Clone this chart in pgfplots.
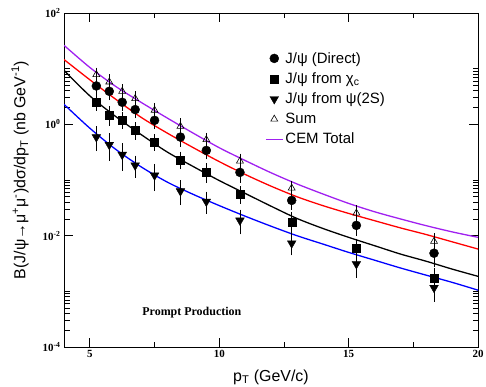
\documentclass[border=0pt]{standalone}
\usepackage{pgfplots}
\pgfplotsset{compat=1.18}
\usepackage{fontspec}
\setmainfont{Liberation Sans}
\newfontfamily\tmsb{Liberation Serif}
\definecolor{cempurple}{RGB}{160,32,240}
\begin{document}
\begin{tikzpicture}
\begin{axis}[
  scale only axis, width=414bp, height=334bp,
  xmin=4, xmax=20, ymin=1e-4, ymax=1e2, ymode=log,
  xtick={5,10,15,20}, xticklabels={5,10,15,20},
  minor xtick={7.5,12.5,17.5},
  ytick={1e-4,1e-2,1,1e2},
  yticklabels={10\textsuperscript{-4},10\textsuperscript{-2},10\textsuperscript{0},10\textsuperscript{2}},
  minor ytick={2e-4,3e-4,4e-4,5e-4,6e-4,7e-4,8e-4,9e-4,1e-3,2e-2,3e-2,4e-2,5e-2,6e-2,7e-2,8e-2,9e-2,1e-1,2,3,4,5,6,7,8,9,10},
  tick align=inside,
  major tick length=9bp, minor tick length=5.5bp,
  every tick/.style={black, line width=0.8pt},
  axis line style={line width=1pt},
  ticklabel style={font=\tmsb\bfseries\fontsize{11}{11}\selectfont},
  xlabel={p\textsubscript{T} (GeV/c)},
  ylabel={B(J/ψ→μ\textsuperscript{+}μ\textsuperscript{-})dσ/dp\textsubscript{T} (nb GeV\textsuperscript{-1})},
  label style={font=\fontsize{16}{16}\selectfont},
  xlabel style={at={(axis description cs:0.5,0)}, anchor=center, yshift=-30bp},
  ylabel style={at={(axis description cs:-0.106,0.53)}, anchor=center},
  legend style={at={(axis description cs:0.478,0.895)}, anchor=north west, draw=none, fill=none,
    font=\fontsize{15}{15}\selectfont, row sep=4bp},
  legend cell align=left,
  error bars/y dir=both, error bars/y explicit relative,
  error bars/error bar style={black, line width=0.6pt},
  error bars/error mark options={black, mark size=3.5bp, line width=0.6pt},
]
\addlegendimage{only marks, mark=*, black, mark size=4.5bp}
\addlegendentry{J/ψ (Direct)}
\addlegendimage{only marks, mark=square*, black, mark size=4bp}
\addlegendentry{J/ψ from χ\textsubscript{c}}
\addlegendimage{only marks, mark=triangle*, black, mark size=5bp, mark options={rotate=180}}
\addlegendentry{J/ψ from ψ(2S)}
\addlegendimage{only marks, mark=triangle, black, mark size=4bp, mark options={line width=0.6pt}}
\addlegendentry{Sum}
\addlegendimage{legend image code/.code={\draw[cempurple, line width=1.4pt] (0cm,0cm) -- (0.6cm,0cm);}}
\addlegendentry{CEM Total}

% theory curves
\addplot[forget plot, cempurple, line width=1.3pt, smooth] coordinates {
(4,26.3)(5,10.5)(6,4.79)(7,2.45)(8,1.29)(9,0.692)(10,0.380)(11,0.224)(12,0.135)(13,0.0851)(14,0.0562)(15,0.0380)(16,0.0269)(17,0.0200)(18,0.0151)(19,0.0117)(20,0.00933)};
\addplot[forget plot, red, line width=1.3pt, smooth] coordinates {
(4,14.59)(5,6.31)(6,2.818)(7,1.318)(8,0.692)(9,0.380)(10,0.214)(11,0.126)(12,0.0776)(13,0.0501)(14,0.0347)(15,0.0251)(16,0.0186)(17,0.0138)(18,0.01047)(19,0.00776)(20,0.00575)};
\addplot[forget plot, black, line width=1.3pt, smooth] coordinates {
(4,9.33)(5,3.24)(6,1.38)(7,0.646)(8,0.316)(9,0.174)(10,0.0977)(11,0.0575)(12,0.0339)(13,0.0204)(14,0.0135)(15,0.00933)(16,0.00661)(17,0.00468)(18,0.00347)(19,0.00251)(20,0.00186)};
\addplot[forget plot, blue, line width=1.3pt, smooth] coordinates {
(4,2.29)(5,0.851)(6,0.355)(7,0.170)(8,0.0912)(9,0.0550)(10,0.0347)(11,0.0224)(12,0.0148)(13,0.0100)(14,0.00708)(15,0.00501)(16,0.00363)(17,0.00263)(18,0.00195)(19,0.00145)(20,0.00105)};

% data
\addplot[forget plot, only marks, mark=*, black, mark size=4.5bp, error bars/y dir=both, error bars/y explicit relative] coordinates {
(5.25,4.89) +- (0,0.17)
(5.75,3.92) +- (0,0.2)
(6.25,2.49) +- (0,0.18)
(6.75,1.84) +- (0,0.2)
(7.5,1.18) +- (0,0.2)
(8.5,0.59) +- (0,0.22)
(9.5,0.34) +- (0,0.2)
(10.8,0.137) +- (0,0.25)
(12.8,0.043) +- (0,0.22)
(15.3,0.0153) +- (0,0.25)
(18.3,0.00484) +- (0,0.35)
};
\addplot[forget plot, only marks, mark=square*, black, mark size=4bp, error bars/y dir=both, error bars/y explicit relative] coordinates {
(5.25,2.52) +- (0,0.2)
(5.75,1.45) +- (0,0.25)
(6.25,1.18) +- (0,0.2)
(6.75,0.78) +- (0,0.22)
(7.5,0.48) +- (0,0.2)
(8.5,0.23) +- (0,0.22)
(9.5,0.137) +- (0,0.25)
(10.8,0.055) +- (0,0.22)
(12.8,0.0178) +- (0,0.3)
(15.3,0.0059) +- (0,0.3)
(18.3,0.00175) +- (0,0.3)
};
\addplot[forget plot, only marks, mark=triangle*, black, mark size=5bp, mark options={rotate=180}, error bars/y dir=both, error bars/y explicit relative] coordinates {
(5.25,0.59) +- (0,0.35)
(5.75,0.43) +- (0,0.4)
(6.25,0.285) +- (0,0.4)
(6.75,0.183) +- (0,0.3)
(7.5,0.121) +- (0,0.4)
(8.5,0.063) +- (0,0.35)
(9.5,0.041) +- (0,0.3)
(10.8,0.0188) +- (0,0.35)
(12.8,0.0073) +- (0,0.3)
(15.3,0.0031) +- (0,0.35)
(18.3,0.00116) +- (0,0.35)
};
\addplot[forget plot, only marks, mark=triangle, black, mark size=4bp, mark options={line width=0.6pt}, error bars/y dir=both, error bars/y explicit relative] coordinates {
(5.25,7.83) +- (0,0.15)
(5.75,5.77) +- (0,0.2)
(6.25,3.92) +- (0,0.15)
(6.75,2.9) +- (0,0.18)
(7.5,1.79) +- (0,0.18)
(8.5,0.92) +- (0,0.2)
(9.5,0.53) +- (0,0.15)
(10.8,0.219) +- (0,0.18)
(12.8,0.0715) +- (0,0.18)
(15.3,0.0254) +- (0,0.2)
(18.3,0.0079) +- (0,0.2)
};
\node[font=\tmsb\bfseries\fontsize{12}{12}\selectfont] at (axis cs:8.94,4.2e-4) {Prompt Production};
\end{axis}
\pgfresetboundingbox
\useasboundingbox ([shift={(-64bp,-40bp)}]current axis.south west) rectangle ([shift={(8bp,13bp)}]current axis.north east);
\end{tikzpicture}
\end{document}
